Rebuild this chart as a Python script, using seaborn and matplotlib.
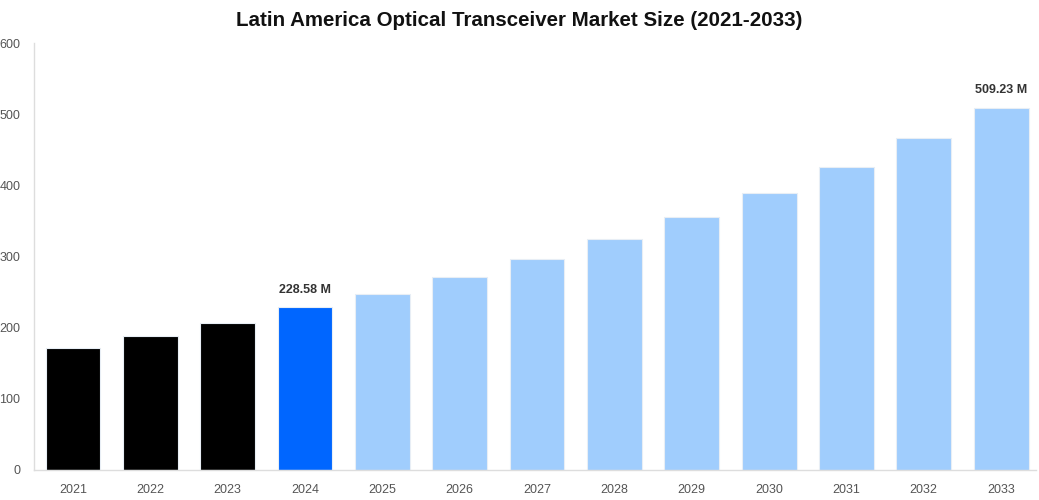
import matplotlib
matplotlib.use("Agg")
import matplotlib.pyplot as plt
import seaborn as sns
import pandas as pd

years = ["2021", "2022", "2023", "2024", "2025", "2026", "2027", "2028",
         "2029", "2030", "2031", "2032", "2033"]
values = [171.5, 188.5, 207.0, 228.58, 248.0, 271.0, 296.0, 324.0,
          355.0, 389.0, 426.0, 466.0, 509.23]
colors = ["#000000", "#000000", "#000000", "#0066ff"] + ["#a0cdfd"] * 9
labels = {3: "228.58 M", 12: "509.23 M"}

sns.set_theme(style="white")
plt.rcParams['font.family'] = ['Liberation Sans', 'DejaVu Sans']

df = pd.DataFrame({"year": years, "value": values})

fig = plt.figure(figsize=(10.39, 5.0), dpi=100)
ax = fig.add_axes([0.033, 0.06, 0.964, 0.854])

sns.barplot(data=df, x="year", y="value", hue="year", palette=colors,
            legend=False, width=0.71, edgecolor="#e8eef5", linewidth=0.8,
            saturation=1, ax=ax)

ax.set_ylim(0, 600)
ax.set_xlim(-0.5, 12.45)
ax.set_yticks([0, 100, 200, 300, 400, 500, 600])
ax.set_xlabel("")
ax.set_ylabel("")
ax.tick_params(axis="both", labelsize=9, colors="#555555", length=0)
ax.tick_params(axis="x", pad=10)
ax.tick_params(axis="y", pad=10)
for s in ["top", "right"]:
    ax.spines[s].set_visible(False)
for s in ["left", "bottom"]:
    ax.spines[s].set_color("#dddddd")
    ax.spines[s].set_linewidth(1)

for i, t in labels.items():
    ax.annotate(t, (i, values[i]), xytext=(0, 8), textcoords="offset points",
                ha="center", va="bottom", fontsize=9, fontweight="bold",
                color="#333333")

fig.text(0.5, 0.958, "Latin America Optical Transceiver Market Size (2021-2033)",
         ha="center", va="center", fontsize=14.8, fontweight="bold", color="#111111")

fig.savefig("out.png", dpi=100)
